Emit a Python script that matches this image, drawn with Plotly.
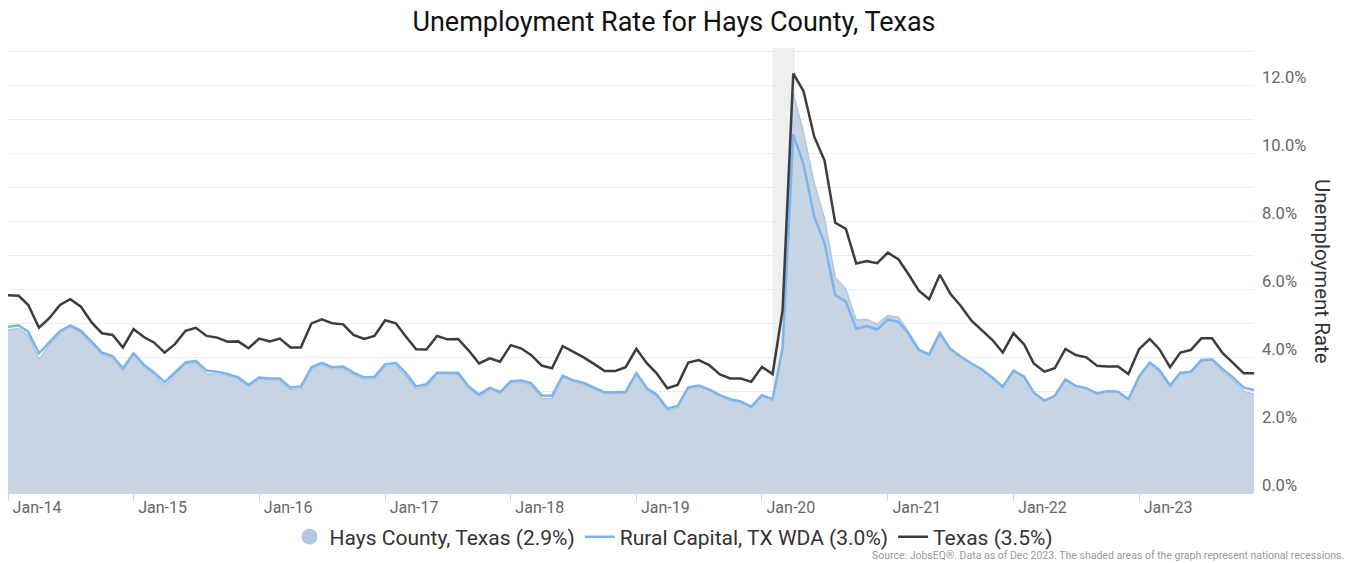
import pandas as pd
import plotly.graph_objects as go

months = pd.date_range("2014-01-01", periods=120, freq="MS")

hays = [4.80, 4.84, 4.64, 3.93, 4.36, 4.70, 4.88, 4.71, 4.38, 4.08, 3.97, 3.58,
        4.07, 3.70, 3.48, 3.15, 3.48, 3.80, 3.85, 3.50, 3.50, 3.46, 3.36, 3.12,
        3.35, 3.32, 3.31, 3.04, 3.07, 3.65, 3.78, 3.64, 3.66, 3.48, 3.34, 3.36,
        3.72, 3.74, 3.46, 3.05, 3.14, 3.50, 3.48, 3.48, 3.08, 2.83, 3.04, 2.92,
        3.25, 3.25, 3.17, 2.78, 2.78, 3.42, 3.27, 3.20, 3.06, 2.91, 2.92, 2.94,
        3.49, 3.03, 2.85, 2.43, 2.50, 3.07, 3.12, 3.01, 2.85, 2.72, 2.65, 2.50,
        2.84, 2.72, 4.30, 11.76, 10.60, 9.11, 8.08, 6.34, 5.99, 5.09, 5.10, 4.97,
        5.22, 5.17, 4.76, 4.23, 4.08, 4.75, 4.26, 4.02, 3.82, 3.64, 3.40, 3.10,
        3.62, 3.44, 2.93, 2.70, 2.84, 3.32, 3.13, 3.07, 2.91, 2.98, 2.96, 2.74,
        3.40, 3.80, 3.56, 3.10, 3.50, 3.55, 3.88, 3.91, 3.56, 3.32, 3.00, 2.90]

rural = [4.89, 4.93, 4.74, 4.11, 4.43, 4.76, 4.93, 4.77, 4.45, 4.13, 4.03, 3.67,
         4.11, 3.76, 3.55, 3.26, 3.55, 3.84, 3.89, 3.60, 3.57, 3.50, 3.40, 3.18,
         3.40, 3.37, 3.37, 3.10, 3.13, 3.70, 3.83, 3.70, 3.72, 3.54, 3.40, 3.42,
         3.79, 3.82, 3.54, 3.13, 3.20, 3.54, 3.54, 3.54, 3.13, 2.90, 3.09, 2.97,
         3.29, 3.31, 3.23, 2.87, 2.86, 3.45, 3.32, 3.24, 3.10, 2.96, 2.96, 2.98,
         3.53, 3.08, 2.90, 2.49, 2.56, 3.11, 3.16, 3.05, 2.88, 2.76, 2.69, 2.54,
         2.88, 2.76, 4.24, 10.55, 9.66, 8.13, 7.34, 5.82, 5.63, 4.83, 4.91, 4.81,
         5.10, 5.04, 4.70, 4.21, 4.08, 4.70, 4.24, 4.01, 3.81, 3.64, 3.39, 3.13,
         3.60, 3.42, 2.95, 2.72, 2.86, 3.34, 3.15, 3.08, 2.93, 3.00, 2.98, 2.76,
         3.42, 3.84, 3.62, 3.17, 3.54, 3.57, 3.91, 3.93, 3.64, 3.40, 3.10, 3.03]

texas = [5.82, 5.80, 5.53, 4.86, 5.14, 5.53, 5.70, 5.48, 5.02, 4.70, 4.65, 4.28,
         4.82, 4.58, 4.43, 4.13, 4.38, 4.77, 4.86, 4.62, 4.57, 4.45, 4.46, 4.26,
         4.54, 4.46, 4.54, 4.28, 4.28, 4.99, 5.11, 4.99, 4.96, 4.65, 4.53, 4.62,
         5.08, 4.99, 4.62, 4.23, 4.22, 4.62, 4.52, 4.53, 4.19, 3.81, 3.96, 3.86,
         4.35, 4.25, 4.06, 3.75, 3.67, 4.32, 4.16, 3.99, 3.79, 3.59, 3.59, 3.70,
         4.24, 3.81, 3.52, 3.08, 3.18, 3.84, 3.91, 3.76, 3.49, 3.37, 3.37, 3.27,
         3.71, 3.50, 5.38, 12.34, 11.82, 10.48, 9.78, 7.95, 7.77, 6.75, 6.82, 6.76,
         7.07, 6.87, 6.45, 5.95, 5.70, 6.42, 5.87, 5.50, 5.07, 4.79, 4.50, 4.13,
         4.70, 4.37, 3.81, 3.57, 3.67, 4.24, 4.06, 3.99, 3.74, 3.72, 3.72, 3.50,
         4.23, 4.53, 4.23, 3.70, 4.13, 4.21, 4.55, 4.55, 4.11, 3.83, 3.52, 3.52]

names = ["Hays County, Texas (2.9%)", "Rural Capital, TX WDA (3.0%)", "Texas (3.5%)"]
recession = ("2020-02-01", "2020-04-06")

FONT = "Roboto"
W, H = 1348, 563
fig = go.Figure()

fig.add_trace(go.Scatter(
    x=months, y=hays, mode="lines", fill="tozeroy",
    line=dict(color="#b4c6dc", width=1.5), fillcolor="#c7d4e4",
    showlegend=False, name=names[0]))
fig.add_trace(go.Scatter(
    x=[None], y=[None], mode="markers", name=names[0],
    marker=dict(symbol="circle", size=18, color="#b3c7de")))
fig.add_trace(go.Scatter(
    x=months, y=rural, mode="lines", name=names[1],
    line=dict(color="#7cb5ec", width=2.5)))
fig.add_trace(go.Scatter(
    x=months, y=texas, mode="lines", name=names[2],
    line=dict(color="#3d3d41", width=2.5)))

fig.add_shape(type="rect", xref="x", yref="paper",
              x0=recession[0], x1=recession[1], y0=0, y1=1,
              fillcolor="#efefef", line=dict(width=0), layer="below")

fig.update_layout(
    width=W, height=H,
    margin=dict(l=8, r=94, t=48, b=70, autoexpand=False),
    paper_bgcolor="white", plot_bgcolor="white",
    font=dict(family=FONT, color="#333333"),
    title=dict(text="Unemployment Rate for Hays County, Texas",
               x=0.5, xanchor="center", y=1 - 22 / H, yanchor="middle",
               font=dict(family=FONT, size=27, color="#111111")),
    showlegend=True,
    legend=dict(orientation="h", xref="container", x=0.5, xanchor="center",
                yref="container", y=1 - 537 / H, yanchor="middle",
                font=dict(family=FONT, size=21, color="#333333"),
                itemwidth=30, traceorder="normal"),
    xaxis=dict(
        type="date",
        range=["2014-01-01", "2023-12-01"],
        dtick="M12", tick0="2014-01-01", tickformat="%b-%y",
        ticks="outside", ticklen=7, tickcolor="#ccd6eb", tickwidth=1,
        showline=True, linecolor="#ccd6eb", linewidth=1,
        showgrid=False, zeroline=False, automargin=False,
        ticklabelshift=29, ticklabelstandoff=-7,
        tickfont=dict(family=FONT, size=16, color="#666666")),
    yaxis=dict(
        side="right", range=[0, 13.09], automargin=False,
        tickvals=[0, 2, 4, 6, 8, 10, 12],
        ticktext=["0.0%", "2.0%", "4.0%", "6.0%", "8.0%", "10.0%", "12.0%"],
        showgrid=True, gridcolor="#ececec", gridwidth=1,
        minor=dict(dtick=1, tick0=0, showgrid=True, gridcolor="#ececec", gridwidth=1),
        zeroline=False, showline=False, ticks="",
        ticklabelshift=-8, ticklabelstandoff=7,
        tickfont=dict(family=FONT, size=16.5, color="#666666")),
    annotations=[
        dict(text="Unemployment Rate", xref="paper", yref="paper",
             x=(1322 - 8) / 1246, y=(493 - 271) / 445, xanchor="center", yanchor="middle",
             textangle=90, showarrow=False,
             font=dict(family=FONT, size=20.5, color="#333333")),
        dict(text="Source: JobsEQ®. Data as of Dec 2023. The shaded areas of the graph represent national recessions.",
             xref="paper", yref="paper", x=(1346 - 8) / 1246, y=(493 - 555) / 445,
             xanchor="right", yanchor="middle", showarrow=False,
             font=dict(family=FONT, size=10.5, color="#999999")),
    ],
)

fig.write_html("out.html", config={"displayModeBar": False},
               post_script="document.body.style.margin='0';")
